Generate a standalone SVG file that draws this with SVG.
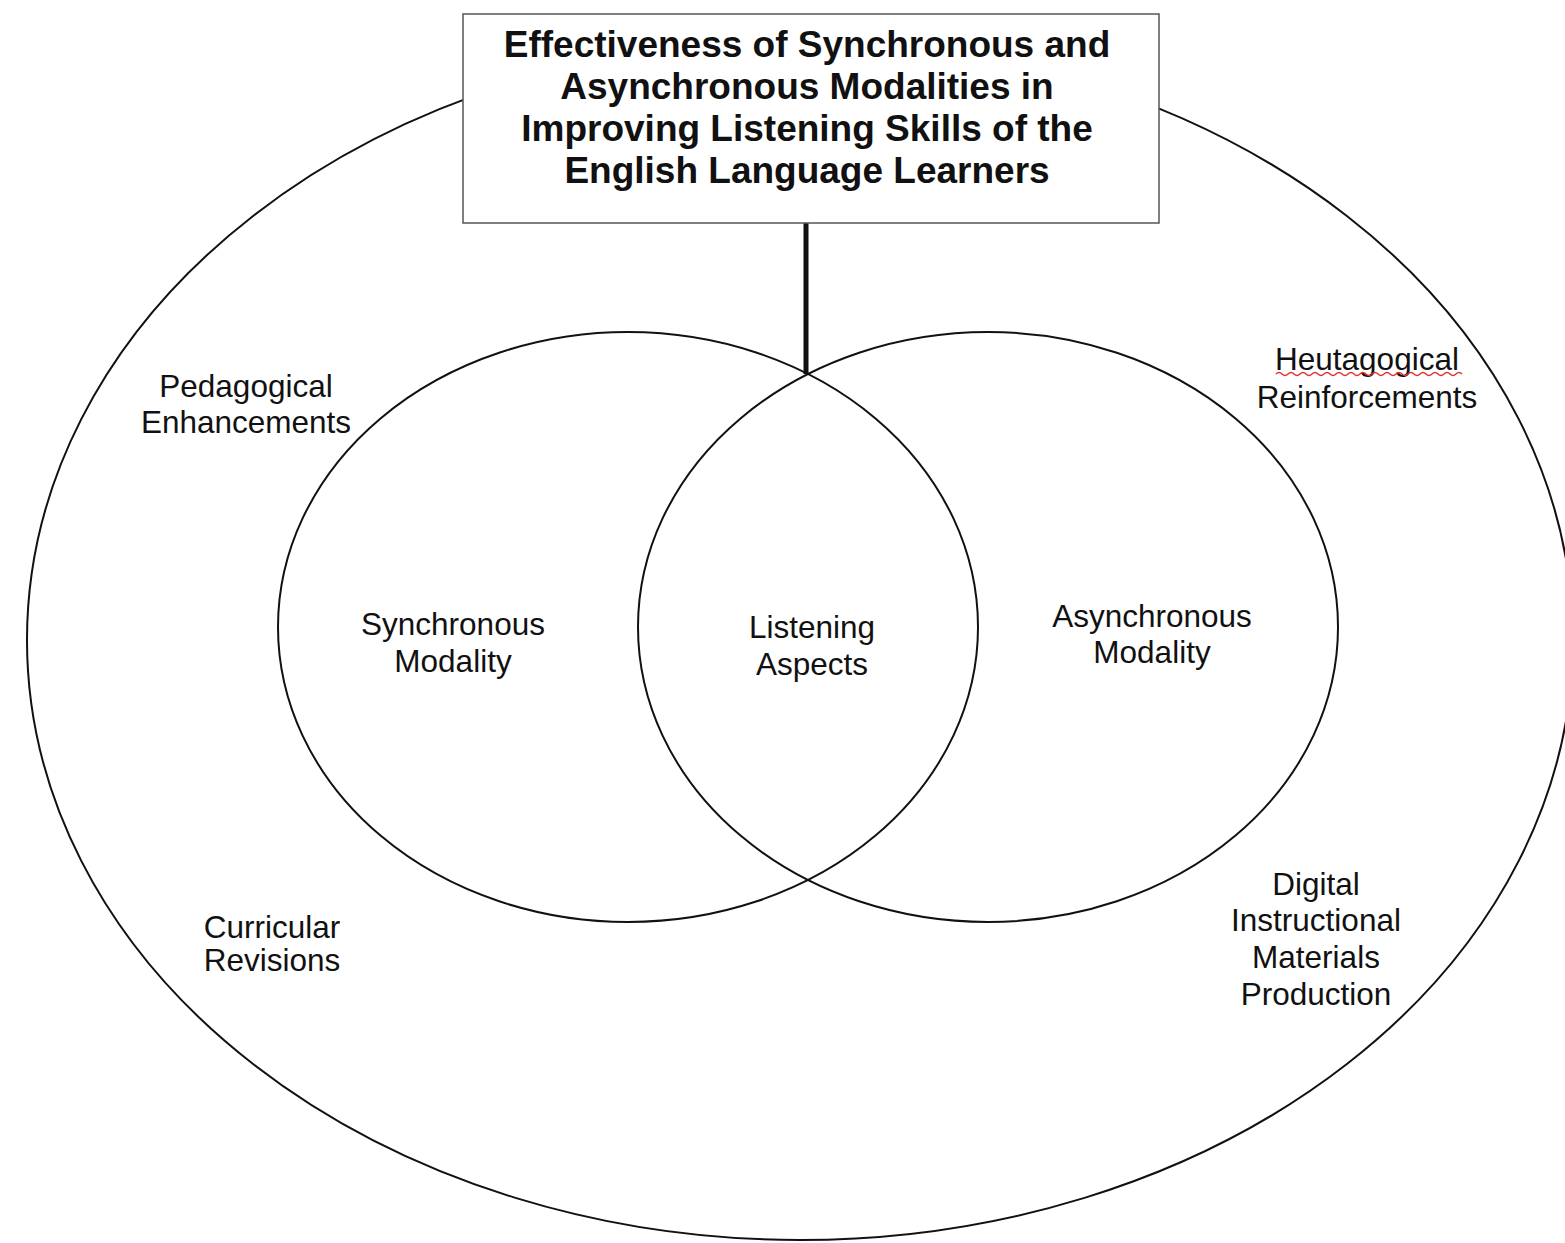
<svg xmlns="http://www.w3.org/2000/svg" width="1565" height="1243" viewBox="0 0 1565 1243">
<style>
.shape{fill:none;stroke:#111;stroke-width:2}
.lbl{font-family:"Liberation Sans",Arial,sans-serif;font-size:31.5px;fill:#111;text-anchor:middle}
.title{font-family:"Liberation Sans",Arial,sans-serif;font-size:37px;font-weight:bold;fill:#111;text-anchor:middle}
</style>
<rect width="1565" height="1243" fill="#fff"/>
<g id="outer">
<ellipse class="shape" cx="800" cy="640" rx="773" ry="600"/>
<text class="lbl" x="246" y="397">Pedagogical</text>
<text class="lbl" x="246" y="433">Enhancements</text>
<text class="lbl" x="1367" y="370">Heutagogical</text>
<path d="M1276,374 q3,-3 6,0 t6,0 t6,0 t6,0 t6,0 t6,0 t6,0 t6,0 t6,0 t6,0 t6,0 t6,0 t6,0 t6,0 t6,0 t6,0 t6,0 t6,0 t6,0 t6,0 t6,0 t6,0 t6,0 t6,0 t6,0 t6,0 t6,0 t6,0 t6,0 t6,0 t6,0" fill="none" stroke="#d33" stroke-width="1.5"/>
<text class="lbl" x="1367" y="408">Reinforcements</text>
<text class="lbl" x="272" y="938">Curricular</text>
<text class="lbl" x="272" y="971">Revisions</text>
<text class="lbl" x="1316" y="895">Digital</text>
<text class="lbl" x="1316" y="931">Instructional</text>
<text class="lbl" x="1316" y="968">Materials</text>
<text class="lbl" x="1316" y="1005">Production</text>
</g>
<g id="connectors">
<line x1="806" y1="223" x2="806" y2="374" stroke="#111" stroke-width="5"/>
</g>
<g id="title">
<rect x="463" y="14" width="696" height="209" fill="#fff" stroke="#555" stroke-width="1.5"/>
<text class="title" x="807" y="57">Effectiveness of Synchronous and</text>
<text class="title" x="807" y="99">Asynchronous Modalities in</text>
<text class="title" x="807" y="141">Improving Listening Skills of the</text>
<text class="title" x="807" y="183">English Language Learners</text>
</g>
<g id="synchronous">
<ellipse class="shape" cx="628" cy="627" rx="350" ry="295"/>
<text class="lbl" x="453" y="635">Synchronous</text>
<text class="lbl" x="453" y="672">Modality</text>
</g>
<g id="asynchronous">
<ellipse class="shape" cx="988" cy="627" rx="350" ry="295"/>
<text class="lbl" x="1152" y="627">Asynchronous</text>
<text class="lbl" x="1152" y="663">Modality</text>
</g>
<g id="listening">
<text class="lbl" x="812" y="638">Listening</text>
<text class="lbl" x="812" y="675">Aspects</text>
</g>
</svg>
